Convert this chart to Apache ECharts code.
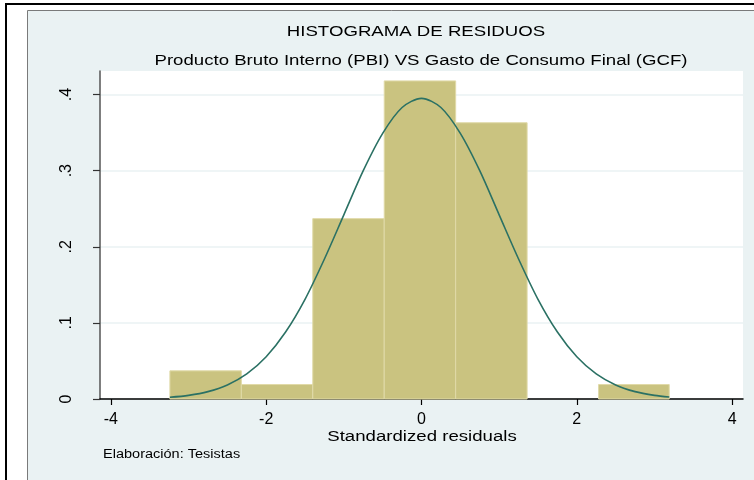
<!DOCTYPE html>
<html>
<head>
<meta charset="utf-8">
<script src="https://cdn.jsdelivr.net/npm/echarts@6/dist/echarts.min.js"></script>
<style>
  html, body { margin: 0; padding: 0; background: #fff; }
  #chart { width: 754px; height: 480px; }
</style>
</head>
<body>
<div id="chart"></div>
<script>
// histogram bins (standardized residuals) and density heights
const binEdges = [-3.24, -2.32, -1.40, -0.48, 0.44, 1.36, 2.28, 3.19];
const density = [0.037, 0.019, 0.237, 0.418, 0.363, 0, 0.019];

// normal density overlay
const curveX = [-3.24, -3, -2.75, -2.5, -2.25, -2, -1.75, -1.5, -1.25, -1, -0.75, -0.5, -0.25, 0,
                0.25, 0.5, 0.75, 1, 1.25, 1.5, 1.75, 2, 2.25, 2.5, 2.75, 3, 3.19];
const curveY = [0.0023, 0.0048, 0.0097, 0.0185, 0.033, 0.0556, 0.088, 0.131, 0.184, 0.242, 0.300, 0.349, 0.383, 0.395,
                0.383, 0.349, 0.300, 0.242, 0.184, 0.131, 0.088, 0.0556, 0.033, 0.0185, 0.0097, 0.0048, 0.0027];

const xTicks = [-4, -2, 0, 2, 4];
const yTicks = [0, 0.1, 0.2, 0.3, 0.4];
const yTickLabels = ['0', '.1', '.2', '.3', '.4'];

const titleText = 'HISTOGRAMA DE RESIDUOS';
const subtitleText = 'Producto Bruto Interno (PBI) VS Gasto de Consumo Final (GCF)';
const xName = 'Standardized residuals';
const noteText = 'Elaboración: Tesistas';

const bins = density.map((d, i) => [binEdges[i], binEdges[i + 1], d]);
const curve = curveX.map((x, i) => [x, curveY[i]]);

const FONT = '"Liberation Sans", Arial, sans-serif';
const STRETCH = 1.21;

const chart = echarts.init(document.getElementById('chart'));

chart.setOption({
    animation: false,
    backgroundColor: '#fff',
    graphic: [
        // outer black frame (top and left)
        { type: 'rect', z: -10, shape: { x: 5, y: 3, width: 760, height: 2 }, style: { fill: '#000' } },
        { type: 'rect', z: -10, shape: { x: 5, y: 3, width: 2, height: 480 }, style: { fill: '#000' } },
        // graph region
        { type: 'rect', z: -10, shape: { x: 27.5, y: 10.5, width: 740, height: 480 },
          style: { fill: '#eaf2f3', stroke: '#7a7a7a', lineWidth: 1 } },
        { type: 'text', x: 416, y: 32, scaleX: STRETCH,
          style: { text: titleText, font: '15.4px ' + FONT, fill: '#000', textAlign: 'center', textVerticalAlign: 'middle' } },
        { type: 'text', x: 421, y: 61, scaleX: STRETCH,
          style: { text: subtitleText, font: '15.4px ' + FONT, fill: '#000', textAlign: 'center', textVerticalAlign: 'middle' } },
        { type: 'text', x: 422, y: 437, scaleX: STRETCH,
          style: { text: xName, font: '15.4px ' + FONT, fill: '#000', textAlign: 'center', textVerticalAlign: 'middle' } },
        { type: 'text', x: 103, y: 455, scaleX: STRETCH,
          style: { text: noteText, font: '12px ' + FONT, fill: '#000', textAlign: 'left', textVerticalAlign: 'middle' } }
    ],
    grid: {
        left: 100, right: 11, top: 71, bottom: 81,
        show: true, backgroundColor: '#fff', borderWidth: 0
    },
    xAxis: {
        type: 'value',
        min: -4.14, max: 4.14,
        axisLine: { show: true, onZero: false, lineStyle: { color: '#000', width: 1.5 } },
        axisTick: { show: true, length: 6, customValues: xTicks, lineStyle: { color: '#000', width: 1.2 } },
        axisLabel: { customValues: xTicks, margin: 13, color: '#000', fontSize: 16, fontFamily: FONT },
        splitLine: { show: false }
    },
    yAxis: {
        type: 'value',
        min: 0, max: 0.431,
        axisLine: { show: true, onZero: false, lineStyle: { color: '#555', width: 1.5 } },
        axisTick: { show: true, length: 7, customValues: yTicks, lineStyle: { color: '#333', width: 1.2 } },
        axisLabel: {
            customValues: yTicks, rotate: 90, margin: 25, color: '#000', fontSize: 16, fontFamily: FONT,
            formatter: v => yTickLabels[yTicks.findIndex(t => Math.abs(t - v) < 1e-9)]
        },
        splitLine: { show: true, lineStyle: { color: '#eaf2f3', width: 1.5 } }
    },
    series: [
        {
            type: 'custom',
            data: bins,
            z: 2,
            renderItem: (params, api) => {
                const h = api.value(2);
                if (!h) return null;
                const p0 = api.coord([api.value(0), h]);
                const p1 = api.coord([api.value(1), 0]);
                return {
                    type: 'rect',
                    shape: { x: p0[0], y: p0[1], width: p1[0] - p0[0], height: p1[1] - p0[1] },
                    style: { fill: '#cac380', stroke: '#e0daa8', lineWidth: 1 }
                };
            }
        },
        {
            type: 'line',
            data: curve,
            z: 3,
            smooth: 0.3,
            showSymbol: false,
            lineStyle: { color: '#2b7164', width: 1.6 }
        }
    ]
});
</script>
</body>
</html>
